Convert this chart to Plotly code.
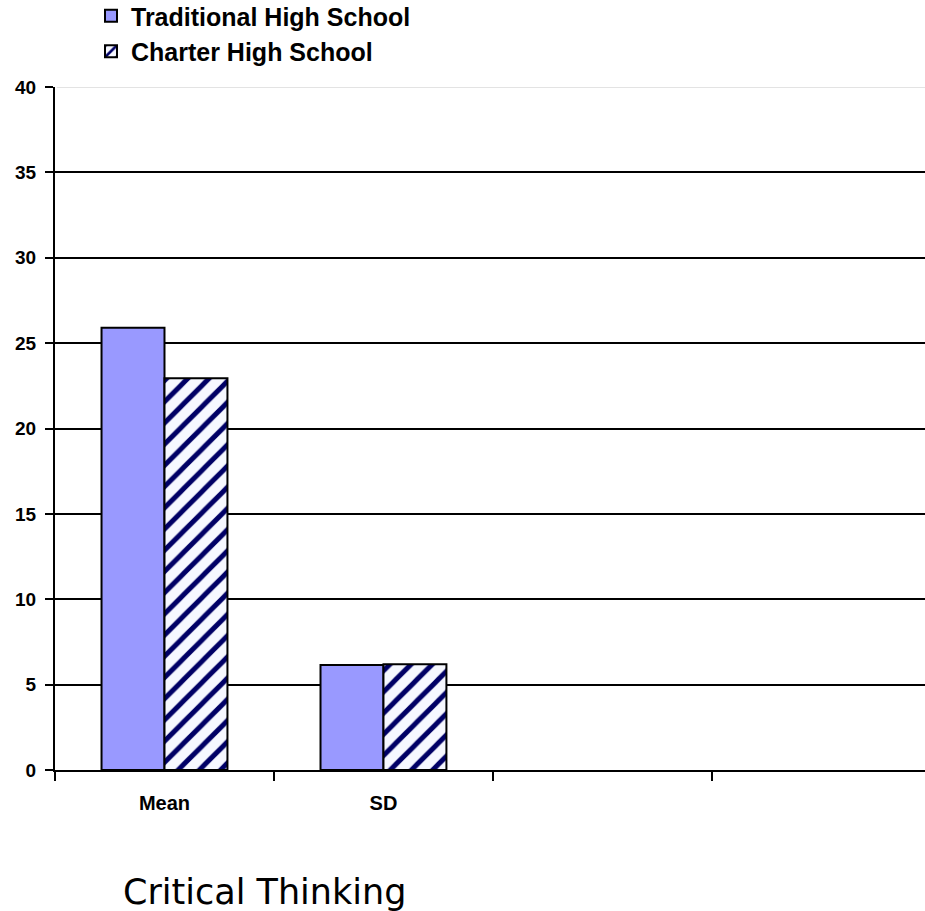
import plotly.graph_objects as go

categories = ["Mean", "SD", " ", "  "]
traditional = [25.9, 6.15, None, None]
charter = [22.95, 6.2, None, None]
series_names = ["Traditional High School", "Charter High School"]
y_ticks = [0, 5, 10, 15, 20, 25, 30, 35, 40]
title_text = "Critical Thinking"

font_bold = "Liberation Sans, Arial, sans-serif"

fig = go.Figure()
fig.add_trace(go.Bar(
    x=categories, y=traditional, name=series_names[0],
    marker=dict(color="#9999FF", line=dict(color="black", width=2)),
    legendgroup="a",
))
fig.add_trace(go.Bar(
    x=categories, y=charter, name=series_names[1],
    marker=dict(color="white", line=dict(color="black", width=2),
                pattern=dict(shape="/", fgcolor="#000066", bgcolor="#F6F8FF",
                             size=15, solidity=0.33, fillmode="replace")),
    legendgroup="b",
))

fig.update_layout(
    width=925, height=911,
    margin=dict(l=55, r=0, t=87, b=141, autoexpand=False),
    plot_bgcolor="white", paper_bgcolor="white",
    barmode="group", bargap=0.425, bargroupgap=0,
    showlegend=True,
    legend=dict(
        xref="paper", yref="paper", x=(91 - 55) / 870, y=(683 + 87 + 7) / 683,
        xanchor="left", yanchor="top",
        font=dict(family=font_bold, size=25, color="black", weight="bold"),
        traceorder="normal", tracegroupgap=0, itemwidth=30,
        bgcolor="rgba(0,0,0,0)",
    ),
    xaxis=dict(
        type="category", categoryorder="array", categoryarray=categories,
        range=[-0.5, 3.473],
        showline=True, linecolor="black", linewidth=2,
        ticks="outside", tickson="boundaries", ticklen=9, tickwidth=2, tickcolor="black",
        tickfont=dict(family=font_bold, size=20, color="black", weight="bold"),
        ticklabelstandoff=14,
        showgrid=False, zeroline=False, automargin=False,
    ),
    yaxis=dict(
        range=[0, 40], tickvals=y_ticks,
        showline=True, linecolor="black", linewidth=2,
        ticks="outside", ticklen=8, tickwidth=2, tickcolor="black",
        tickfont=dict(family=font_bold, size=19, color="black", weight="bold"),
        ticklabelstandoff=5,
        showgrid=True, gridcolor="black", gridwidth=2,
        zeroline=False, automargin=False,
    ),
    shapes=[
        dict(type="line", xref="paper", yref="y", x0=0.002, x1=1, y0=40, y1=40,
             line=dict(color="white", width=3), layer="above"),
        dict(type="line", xref="paper", yref="y", x0=0.002, x1=1, y0=40, y1=40,
             line=dict(color="#C8C8C8", width=1), layer="above"),
    ],
    annotations=[dict(
        text=title_text, xref="paper", yref="paper",
        x=(264.5 - 55) / 870, y=(770 - 892) / 683,
        xanchor="center", yanchor="middle", showarrow=False,
        font=dict(family="DejaVu Sans", size=35, color="black"),
    )],
)

fig.write_html("out.html")
